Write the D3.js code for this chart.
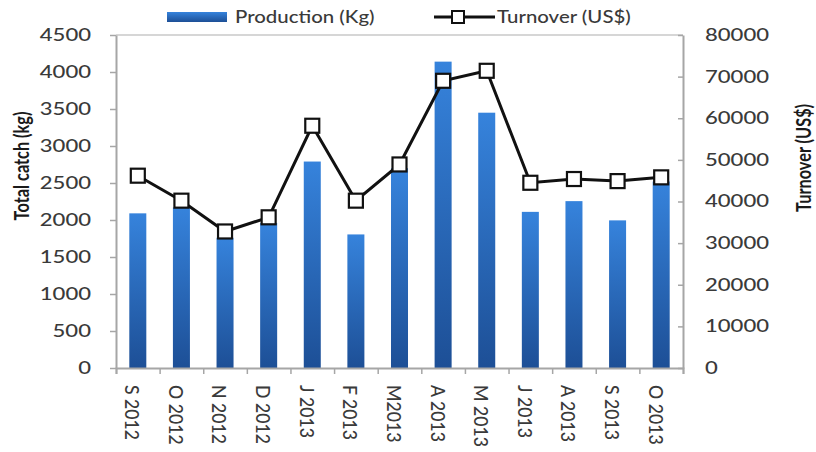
<!DOCTYPE html>
<html>
<head>
<meta charset="utf-8">
<script src="https://d3js.org/d3.v7.min.js"></script>
<style>
  body { margin: 0; background: #fff; }
  text { font-family: Lato, "Open Sans", sans-serif; fill: #3a3a3a; }
</style>
</head>
<body>
<script>
    // chart data
    var months = ["S 2012", "O 2012", "N 2012", "D 2012", "J 2013", "F 2013", "M2013",
        "A 2013", "M 2013", "J 2013 ", "A 2013 ", "S 2013", "O 2013"];
    var production = [2090, 2170, 1760, 1960, 2790, 1805, 2700, 4140, 3450, 2110, 2255, 1995, 2520];
    var turnover = [46200, 40200, 32800, 36200, 58200, 40200, 48900, 69000, 71400, 44500, 45400, 44900, 45800];
    var leftTicks = [0, 500, 1000, 1500, 2000, 2500, 3000, 3500, 4000, 4500];
    var rightTicks = [0, 10000, 20000, 30000, 40000, 50000, 60000, 70000, 80000];

    var width = 816, height = 452;
    var margin = {top: 35, right: 133, bottom: 84, left: 116};
    var sx = 1.3; // the picture is stretched sideways

    var svg = d3.select("body").append("svg")
        .attr("width", width)
        .attr("height", height);

    var defs = svg.append("defs");
    var grad = defs.append("linearGradient")
        .attr("id", "barGrad")
        .attr("x1", 0).attr("y1", 0).attr("x2", 0).attr("y2", 1);
    grad.append("stop").attr("offset", "0%").attr("stop-color", "#3683dc");
    grad.append("stop").attr("offset", "100%").attr("stop-color", "#1d4f96");

    var x = d3.scaleBand()
        .domain(months)
        .range([margin.left, width - margin.right])
        .paddingInner(0.61)
        .paddingOuter(0.305);
    var xEdges = d3.scaleLinear()
        .domain([0, months.length])
        .range([margin.left, width - margin.right]);
    var yL = d3.scaleLinear()
        .domain([0, 4500])
        .range([height - margin.bottom, margin.top]);
    var yR = d3.scaleLinear()
        .domain([0, 80000])
        .range([height - margin.bottom, margin.top]);

    // top border line
    svg.append("line")
        .attr("x1", margin.left).attr("x2", width - margin.right)
        .attr("y1", yL(4500)).attr("y2", yL(4500))
        .attr("stroke", "#c8c8c8").attr("stroke-width", 1.5);

    // bars
    svg.selectAll(".bar")
        .data(production)
        .enter()
        .append("rect")
        .attr("class", "bar")
        .attr("x", function (d, i) { return x(months[i]); })
        .attr("width", x.bandwidth())
        .attr("y", function (d) { return yL(d); })
        .attr("height", function (d) { return yL(0) - yL(d); })
        .attr("fill", "url(#barGrad)");

    // left axis
    var gL = svg.append("g")
        .attr("transform", "translate(" + margin.left + ",0)")
        .call(d3.axisLeft(yL).tickValues(leftTicks).tickFormat(d3.format("d")).tickSize(6).tickSizeOuter(0));
    gL.select(".domain").attr("stroke", "#a6a6a6").attr("stroke-width", 2);
    gL.selectAll(".tick line").attr("stroke", "#a6a6a6").attr("stroke-width", 1.5);
    gL.selectAll(".tick text")
        .attr("x", -25 / sx)
        .attr("transform", "scale(" + sx + ",1)")
        .style("font-size", "17px")
        .style("font-weight", 500);

    // right axis
    var gR = svg.append("g")
        .attr("transform", "translate(" + (width - margin.right) + ",0)")
        .call(d3.axisRight(yR).tickValues(rightTicks).tickFormat(d3.format("d")).tickSize(-5).tickSizeOuter(0));
    gR.select(".domain").attr("stroke", "#a6a6a6").attr("stroke-width", 2);
    gR.selectAll(".tick line").attr("stroke", "#a6a6a6").attr("stroke-width", 1.5);
    gR.selectAll(".tick text")
        .attr("x", 22 / sx)
        .attr("transform", "scale(" + sx + ",1)")
        .style("font-size", "17px")
        .style("font-weight", 500);

    // bottom axis: tick marks between months
    var gE = svg.append("g")
        .attr("transform", "translate(0," + yL(0) + ")")
        .call(d3.axisBottom(xEdges).tickValues(d3.range(months.length + 1)).tickSize(6).tickFormat(""));
    gE.select(".domain").attr("stroke", "#a6a6a6").attr("stroke-width", 2);
    gE.selectAll(".tick line").attr("stroke", "#a6a6a6").attr("stroke-width", 1.5);

    // bottom axis: month labels
    var gX = svg.append("g")
        .attr("transform", "translate(-6," + yL(0) + ")")
        .call(d3.axisBottom(x).tickSize(0).tickFormat(function (d) { return d.trim(); }));
    gX.select(".domain").remove();
    gX.selectAll(".tick text")
        .attr("y", 0)
        .attr("x", 0)
        .attr("dy", "0.35em")
        .attr("text-anchor", "start")
        .attr("transform", "rotate(90) translate(17,0) scale(1.04,1.1)")
        .style("font-size", "17px")
        .style("font-weight", 500);

    // turnover line
    var line = d3.line()
        .x(function (d, i) { return x(months[i]) + x.bandwidth() / 2; })
        .y(function (d) { return yR(d); });
    svg.append("path")
        .datum(turnover)
        .attr("d", line)
        .attr("fill", "none")
        .attr("stroke", "#111")
        .attr("stroke-width", 3);
    svg.selectAll(".mark")
        .data(turnover)
        .enter()
        .append("rect")
        .attr("class", "mark")
        .attr("x", function (d, i) { return x(months[i]) + x.bandwidth() / 2 - 7; })
        .attr("y", function (d) { return yR(d) - 7; })
        .attr("width", 14).attr("height", 14)
        .attr("fill", "#fff")
        .attr("stroke", "#111")
        .attr("stroke-width", 2.2);

    // axis titles
    svg.append("text")
        .attr("transform", "translate(29,166) rotate(-90) scale(1.02,1.25)")
        .attr("text-anchor", "middle")
        .style("font-size", "16px")
        .style("font-weight", "bold")
        .style("fill", "#1a1a1a")
        .text("Total catch (kg)");
    svg.append("text")
        .attr("transform", "translate(811,158) rotate(-90) scale(1.02,1.25)")
        .attr("text-anchor", "middle")
        .style("font-size", "16px")
        .style("font-weight", "bold")
        .style("fill", "#1a1a1a")
        .text("Turnover (US$)");

    // legend
    svg.append("rect")
        .attr("x", 167).attr("y", 12).attr("width", 60).attr("height", 10)
        .attr("fill", "url(#barGrad)");
    svg.append("text")
        .attr("transform", "translate(235,23) scale(1.2,1)")
        .style("font-size", "17px")
        .style("font-weight", 500)
        .text("Production (Kg)");
    svg.append("line")
        .attr("x1", 434).attr("x2", 495).attr("y1", 17).attr("y2", 17)
        .attr("stroke", "#111").attr("stroke-width", 3);
    svg.append("rect")
        .attr("x", 452).attr("y", 11).attr("width", 12).attr("height", 12)
        .attr("fill", "#fff").attr("stroke", "#111").attr("stroke-width", 2);
    svg.append("text")
        .attr("transform", "translate(497,23) scale(1.2,1)")
        .style("font-size", "17px")
        .style("font-weight", 500)
        .text("Turnover (US$)");
</script>
</body>
</html>
